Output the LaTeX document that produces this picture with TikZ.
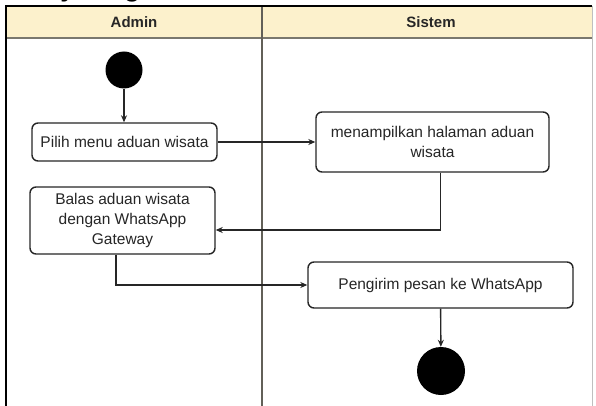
\documentclass[tikz,border=0pt]{standalone}
\usepackage{fontspec}
\setmainfont{Liberation Sans}
\usetikzlibrary{arrows.meta,calc}
\definecolor{lanehead}{HTML}{FCF1CC}
\definecolor{laneline}{HTML}{7A786E}
\definecolor{ink}{HTML}{262626}
\begin{document}
\begin{tikzpicture}[x=1pt,y=-1pt,
  action/.style={draw=ink, line width=1.4pt, rounded corners=6pt, fill=white,
    font=\fontsize{15.5}{20}\selectfont, text=ink, align=center, inner sep=0pt},
  flow/.style={draw=ink, line width=1.4pt, -{Stealth[length=7pt,width=6pt]}},
  lanetitle/.style={font=\bfseries\fontsize{15}{18}\selectfont, text=ink},
  terminal/.style={circle, fill=black, inner sep=0pt}]
\useasboundingbox (0,0) rectangle (596,406);
\clip (0,0) rectangle (596,406);

% title line above the swimlanes (only its lowest part lies inside the page)
\node[anchor=base west, inner sep=0pt, font=\bfseries\fontsize{26.6}{30}\selectfont]
  (title) at (-21,-3) {Activity Diagram};

% swimlane frame
\fill[lanehead] (6,6) rectangle (592,38);
\draw[laneline, line width=1.6pt] (6,38) -- (592,38);
\draw[black!25, line width=0.8pt] (592,6) -- (592,406);
\draw[laneline!80!black, line width=1.6pt] (262,6) -- (262,406);
\draw[black, line width=2.6pt] (6,406) -- (6,6) -- (592,6);

\node[lanetitle] (admin) at (134,22) {Admin};
\node[lanetitle] (sistem) at (431,22) {Sistem};

% activities
\node[terminal, minimum size=37pt] (start) at (124,70) {};
\node[action, minimum width=185pt, minimum height=38pt] (pilih) at (124.5,142)
  {Pilih menu aduan wisata};
\node[action, minimum width=233pt, minimum height=60pt] (tampil) at (432.5,142)
  {menampilkan halaman aduan\\wisata};
\node[action, minimum width=185pt, minimum height=67pt] (balas) at (122.5,220.5)
  {Balas aduan wisata\\dengan WhatsApp\\Gateway};
\node[action, minimum width=265pt, minimum height=46pt] (kirim) at (440.5,285)
  {Pengirim pesan ke WhatsApp};
\node[terminal, minimum size=48pt] (stop) at (441,371) {};

% control flow
\draw[flow] (start.south) -- (start.south |- pilih.north);
\draw[flow] (pilih) -- (tampil);
\draw[flow] (tampil.south -| kirim) |- ($(balas.east)+(0,9.5)$);
\draw[flow] ($(balas.south)+(-6.5,0)$) |- (kirim.west);
\draw[flow] (kirim) -- (stop);
\end{tikzpicture}
\end{document}
